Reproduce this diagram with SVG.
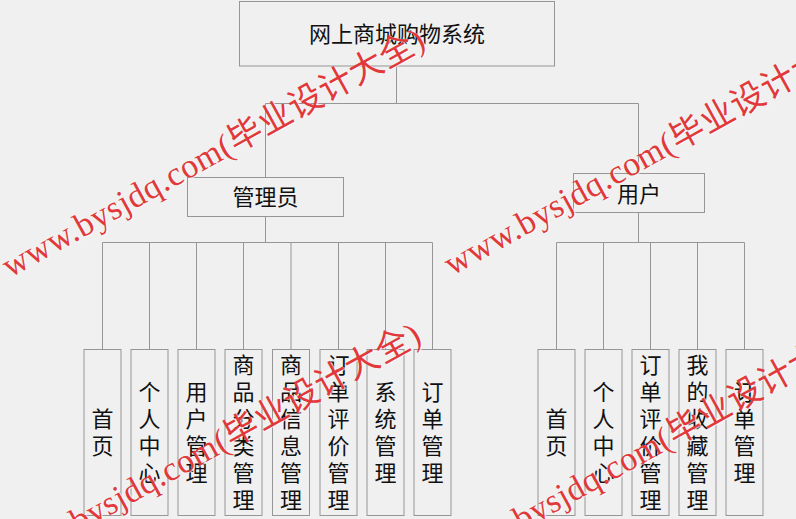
<svg xmlns="http://www.w3.org/2000/svg" width="796" height="519" viewBox="0 0 796 519">
<style>
.bg{fill:#f0f0f0}
.box{fill:#f0f0f0;stroke:#969696;stroke-width:1}
.ln{fill:none;stroke:#969696;stroke-width:1}
.t{font-family:"Noto Sans CJK SC","Liberation Sans",sans-serif;font-size:22px;fill:#111;text-anchor:middle}
.v{font-family:"Noto Sans CJK SC","Liberation Sans",sans-serif;font-size:22px;fill:#111;text-anchor:middle;writing-mode:vertical-rl;letter-spacing:5px}
.wm{font-family:"Liberation Serif","Noto Sans CJK SC",serif;font-size:34px;letter-spacing:0.6px;fill:#e2383a}
.wms{font-family:"Liberation Serif","Noto Sans CJK SC",serif;font-size:34px;letter-spacing:0.6px;fill:#ffffff;opacity:0.6}
</style>
<defs>
<g id="wmark">
<text class="wms" x="1.2" y="1.2">www.bysjdq.com(毕业设计大全)</text>
<text class="wm" x="0" y="0">www.bysjdq.com(毕业设计大全)</text>
</g>
</defs>
<rect class="bg" x="0" y="0" width="796" height="519"/>

<g id="connectors">
<path class="ln" d="M396.5 66 V103.5 M265.5 103.5 H638.5 M265.5 103.5 V177.5 M638.5 103.5 V173.5"/>
<path class="ln" d="M265.5 216.5 V242.5 M102.5 242.5 H432.5 M102.5 242.5 V349.5 M149.5 242.5 V349.5 M196.5 242.5 V349.5 M243.5 242.5 V349.5 M291 242.5 V349.5 M338.5 242.5 V349.5 M385.5 242.5 V349.5 M432.5 242.5 V349.5"/>
<path class="ln" d="M638.5 212.5 V242.5 M556.5 242.5 H744.5 M556.5 242.5 V349.5 M603.5 242.5 V349.5 M650.5 242.5 V349.5 M697.5 242.5 V349.5 M744.5 242.5 V349.5"/>
</g>

<g id="root"><rect class="box" x="239.5" y="1.5" width="315" height="64.5"/><text class="t" x="397" y="41.5">网上商城购物系统</text></g>
<g id="admin"><rect class="box" x="187.5" y="177.5" width="156" height="39"/><text class="t" x="265.5" y="205">管理员</text></g>
<g id="user"><rect class="box" x="573.5" y="173.5" width="131" height="39"/><text class="t" x="639" y="201.5">用户</text></g>

<g id="a1"><rect class="box" x="84" y="349.5" width="37" height="166"/><text class="v" x="102.5" y="434.5">首页</text></g>
<g id="a2"><rect class="box" x="131" y="349.5" width="37" height="166"/><text class="v" x="149.5" y="434.5">个人中心</text></g>
<g id="a3"><rect class="box" x="178" y="349.5" width="37" height="166"/><text class="v" x="196.5" y="434.5">用户管理</text></g>
<g id="a4"><rect class="box" x="225" y="349.5" width="37" height="166"/><text class="v" x="243.5" y="434.5">商品分类管理</text></g>
<g id="a5"><rect class="box" x="272.5" y="349.5" width="37" height="166"/><text class="v" x="291" y="434.5">商品信息管理</text></g>
<g id="a6"><rect class="box" x="320" y="349.5" width="37" height="166"/><text class="v" x="338.5" y="434.5">订单评价管理</text></g>
<g id="a7"><rect class="box" x="367" y="349.5" width="37" height="166"/><text class="v" x="385.5" y="434.5">系统管理</text></g>
<g id="a8"><rect class="box" x="414" y="349.5" width="37" height="166"/><text class="v" x="432.5" y="434.5">订单管理</text></g>

<g id="u1"><rect class="box" x="538" y="349.5" width="37" height="166"/><text class="v" x="556.5" y="434.5">首页</text></g>
<g id="u2"><rect class="box" x="585" y="349.5" width="37" height="166"/><text class="v" x="603.5" y="434.5">个人中心</text></g>
<g id="u3"><rect class="box" x="632" y="349.5" width="37" height="166"/><text class="v" x="650.5" y="434.5">订单评价管理</text></g>
<g id="u4"><rect class="box" x="679" y="349.5" width="37" height="166"/><text class="v" x="697.5" y="434.5">我的收藏管理</text></g>
<g id="u5"><rect class="box" x="726" y="349.5" width="37" height="166"/><text class="v" x="744.5" y="434.5">订单管理</text></g>

<g id="watermarks">
<use href="#wmark" transform="translate(10 278) rotate(-29)"/>
<use href="#wmark" transform="translate(452 276) rotate(-29)"/>
<use href="#wmark" transform="translate(6 573) rotate(-29)"/>
<use href="#wmark" transform="translate(449 571) rotate(-29)"/>
</g>
</svg>
